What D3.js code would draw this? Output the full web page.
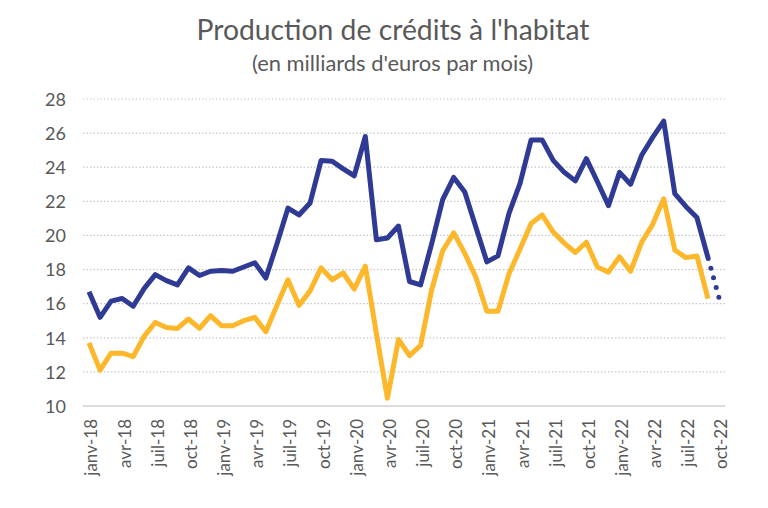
<!DOCTYPE html>
<html><head><meta charset="utf-8">
<script src="https://cdn.jsdelivr.net/npm/d3@7"></script>
<style>
body{margin:0;background:#fff;}
svg{display:block;font-family:Lato, "Open Sans", sans-serif;}
</style></head>
<body><svg id="c" width="768" height="508"></svg>
<script>
const monthNames = ["janv","févr","mars","avr","mai","juin","juil","août","sept","oct","nov","déc"];
const startYear = 2018;
const nMonths = 58; // janv-18 .. oct-22
const months = d3.range(nMonths).map(i => monthNames[i % 12] + "-" + String(startYear + Math.floor(i / 12)).slice(2));
const tickLabels = months.filter((m, i) => i % 3 === 0);

const blueValues = [16.7,15.2,16.15,16.3,15.85,16.9,17.7,17.35,17.1,18.1,17.65,17.9,
  17.95,17.9,18.15,18.4,17.5,19.5,21.6,21.2,21.9,24.4,24.35,23.9,
  23.5,25.8,19.75,19.85,20.55,17.3,17.1,19.5,22.1,23.4,22.55,20.5,
  18.45,18.8,21.3,23.05,25.6,25.6,24.4,23.7,23.2,24.5,23.15,21.75,
  23.7,23.0,24.7,25.75,26.7,22.45,21.7,21.05,18.7];
const blueForecast = [18.7, 16.35]; // sept-22 -> oct-22 (dotted)
const yellowValues = [13.7,12.1,13.1,13.1,12.9,14.1,14.9,14.6,14.55,15.1,14.55,15.3,
  14.7,14.7,15.0,15.2,14.35,15.9,17.4,15.9,16.75,18.1,17.4,17.8,
  16.85,18.2,14.25,10.45,13.9,12.95,13.55,16.8,19.1,20.15,18.95,17.55,
  15.55,15.55,17.75,19.2,20.7,21.2,20.2,19.55,19.0,19.6,18.15,17.85,
  18.75,17.9,19.6,20.65,22.15,19.15,18.7,18.8,16.3];
const yTicks = [10,12,14,16,18,20,22,24,26,28];

const svg = d3.select("#c");
const x = d3.scaleLinear().domain([0, nMonths - 1]).range([89, 719]);
const y = d3.scaleLinear().domain([10, 28]).range([406, 99]);

svg.append("text").attr("x", 393).attr("y", 40).attr("text-anchor", "middle")
  .attr("fill", "#595959").attr("font-size", 28.3).text("Production de crédits à l'habitat");
svg.append("text").attr("x", 392.5).attr("y", 71).attr("text-anchor", "middle")
  .attr("fill", "#595959").attr("font-size", 21.9).text("(en milliards d'euros par mois)");

// grid
svg.append("g").selectAll("line").data(yTicks.filter(t => t > 10)).join("line")
  .attr("x1", 83).attr("x2", 725).attr("y1", d => y(d)).attr("y2", d => y(d))
  .attr("stroke", "#c8c8c8").attr("stroke-width", 1.2).attr("stroke-dasharray", "1.5,2");
svg.append("line").attr("x1", 83).attr("x2", 725).attr("y1", y(10)).attr("y2", y(10))
  .attr("stroke", "#d0d0d0").attr("stroke-width", 1.5);

const yAxis = d3.axisLeft(y).tickValues(yTicks).tickSize(0).tickPadding(0);
svg.append("g").attr("transform", "translate(66,0)").call(yAxis)
  .call(g => g.select(".domain").remove())
  .call(g => g.selectAll("text").attr("font-size", 18).attr("fill", "#595959")
    .attr("font-family", "Lato, sans-serif").attr("dy", "0.35em"));

// x labels
const xBand = d3.scalePoint().domain(months).range([91, 721]);
const xAxis = d3.axisBottom(xBand).tickValues(tickLabels).tickSize(0).tickPadding(0);
svg.append("g").attr("transform", "translate(0,419)").call(xAxis)
  .call(g => g.select(".domain").remove())
  .call(g => g.selectAll("text").attr("font-size", 17).attr("fill", "#595959")
    .attr("font-family", "Lato, sans-serif")
    .attr("transform", "rotate(-90)").attr("text-anchor", "end")
    .attr("x", 0).attr("y", 0).attr("dy", "0.35em"));

const line = d3.line().x((d, i) => x(i)).y(d => y(d));
svg.append("path").datum(yellowValues).attr("d", line).attr("fill", "none")
  .attr("stroke", "#FDB72B").attr("stroke-width", 5).attr("stroke-linejoin", "round");
svg.append("path").datum(blueValues).attr("d", line).attr("fill", "none")
  .attr("stroke", "#2E3A94").attr("stroke-width", 5).attr("stroke-linejoin", "round");
const lineF = d3.line().x((d, i) => x(nMonths - 2 + i)).y(d => y(d));
svg.append("path").datum(blueForecast).attr("d", lineF).attr("fill", "none")
  .attr("stroke", "#2E3A94").attr("stroke-width", 5).attr("stroke-linecap", "round")
  .attr("stroke-dasharray", "0,10").attr("stroke-dashoffset", -11);
</script></body></html>
